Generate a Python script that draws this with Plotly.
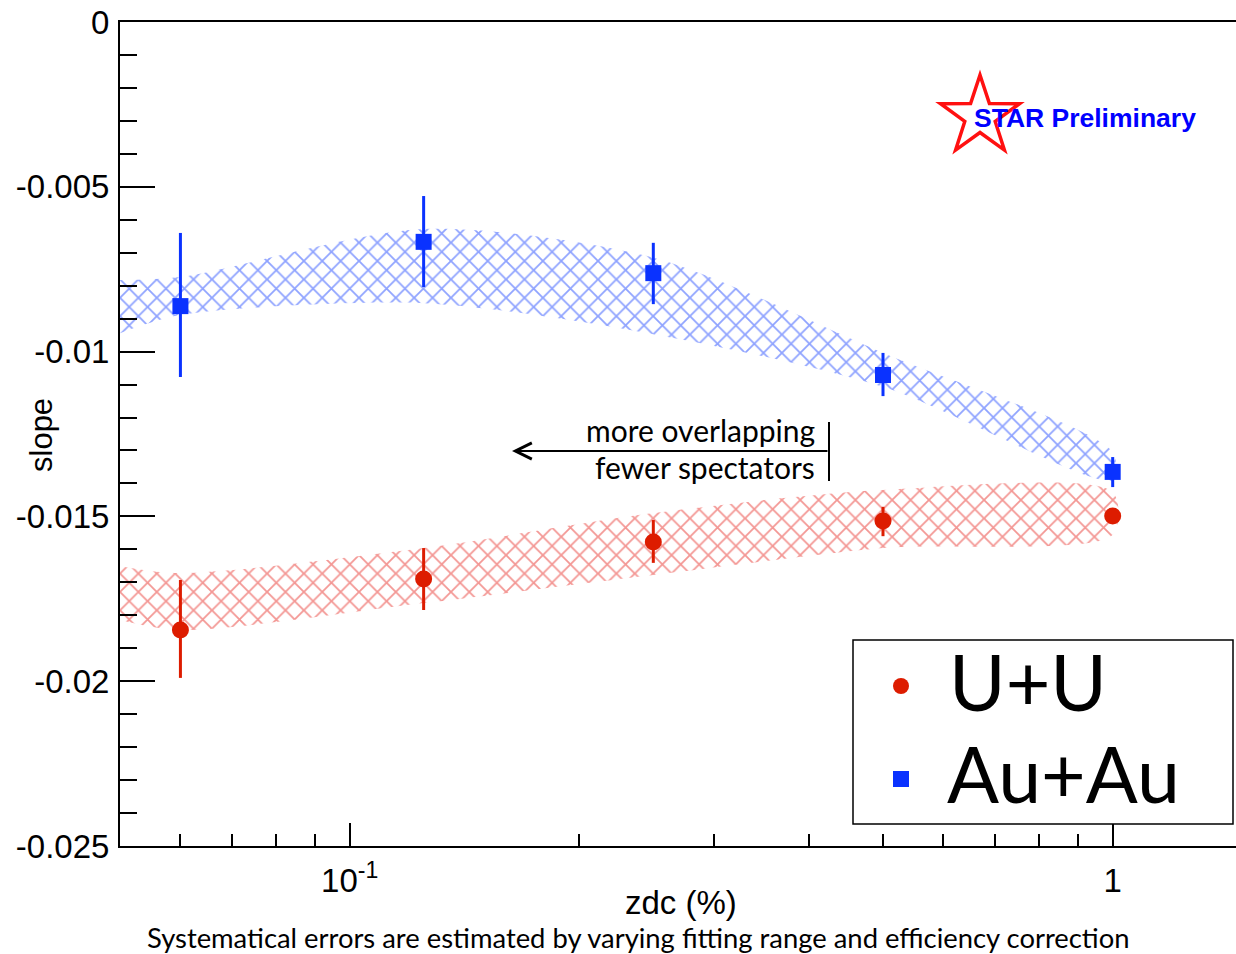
import math
import plotly.graph_objects as go

# ---------------- data ----------------
zdc = [0.06, 0.125, 0.25, 0.5, 1.0]

uu_slope = [-0.01845, -0.01690, -0.01578, -0.01514, -0.01499]
uu_err_up = [0.00152, 0.00094, 0.00067, 0.00043, 0.00020]
uu_err_dn = [0.00145, 0.00094, 0.00063, 0.00046, 0.00020]

auau_slope = [-0.00862, -0.00667, -0.00762, -0.01071, -0.01365]
auau_err_up = [0.00222, 0.00139, 0.00092, 0.00067, 0.00045]
auau_err_dn = [0.00215, 0.00137, 0.00094, 0.00064, 0.00046]

band_x = [0.05, 0.06, 0.125, 0.25, 0.5, 1.0]
auau_sys_hi = [-0.00783, -0.00774, -0.00628, -0.00715, -0.01004, -0.01305]
auau_sys_lo = [-0.00944, -0.00889, -0.00853, -0.00947, -0.01107, -0.01390]
uu_sys_hi = [-0.01651, -0.01672, -0.01596, -0.01490, -0.01420, -0.01426]
uu_sys_lo = [-0.01814, -0.01845, -0.01763, -0.01678, -0.01596, -0.01556]

y_tickvals = [0, -0.005, -0.01, -0.015, -0.02, -0.025]
y_ticktext = ["0", "-0.005", "-0.01", "-0.015", "-0.02", "-0.025"]
x_tickvals = [0.1, 1]
x_ticktext = ["10<sup>-1</sup>", "1"]
x_minor = [0.06, 0.07, 0.08, 0.09, 0.2, 0.3, 0.4, 0.5, 0.6, 0.7, 0.8, 0.9]

legend_names = ["U+U", "Au+Au"]

RED = "#dd1c00"
BLUE = "#0a32ff"
RED_HATCH = "#e8302a"
BLUE_HATCH = "#2048ff"

W, H = 1236, 954
ML, MT = 120, 22
PW, PH = 1236 - 120, 846 - 22
MR = W - ML - PW
MB = H - MT - PH


def px(xp):
    return (xp - 120) / PW


def py(yp):
    return (846 - yp) / PH


fig = go.Figure()


def band(hi, lo, color):
    return go.Scatter(
        x=band_x + band_x[::-1],
        y=hi + lo[::-1],
        mode="lines",
        line=dict(width=0, shape="spline", smoothing=0.8, color=color),
        fill="toself",
        fillcolor="rgba(0,0,0,0)",
        fillpattern=dict(shape="x", fgcolor=color, bgcolor="rgba(0,0,0,0)",
                         size=13, solidity=0.26),
        showlegend=False,
        hoverinfo="skip",
    )


fig.add_trace(band(auau_sys_hi, auau_sys_lo, BLUE_HATCH))
fig.add_trace(band(uu_sys_hi, uu_sys_lo, RED_HATCH))

fig.add_trace(go.Scatter(
    x=zdc, y=uu_slope, mode="markers", name=legend_names[0],
    marker=dict(symbol="circle", size=17, color=RED),
    error_y=dict(type="data", array=uu_err_up, arrayminus=uu_err_dn,
                 color=RED, thickness=3, width=0),
    showlegend=False,
))
fig.add_trace(go.Scatter(
    x=zdc, y=auau_slope, mode="markers", name=legend_names[1],
    marker=dict(symbol="square", size=16, color=BLUE),
    error_y=dict(type="data", array=auau_err_up, arrayminus=auau_err_dn,
                 color=BLUE, thickness=3, width=0),
    showlegend=False,
))

axis_font = dict(family="Liberation Sans, Arial, sans-serif", size=33, color="black")

fig.update_xaxes(
    type="log",
    range=[math.log10(0.05), math.log10(0.05) + PW / 763.0],
    tickvals=x_tickvals, ticktext=x_ticktext,
    ticks="inside", ticklen=23, tickwidth=1.5, tickcolor="black",
    minor=dict(tickvals=x_minor, ticks="inside", ticklen=12,
               tickwidth=1.5, tickcolor="black"),
    showline=True, linecolor="black", linewidth=2, mirror=True,
    showgrid=False, zeroline=False, automargin=False,
    tickfont=axis_font, ticklabelstandoff=4, ticklabeloverflow="allow",
)
fig.update_yaxes(
    range=[-0.025, 0],
    tickvals=y_tickvals, ticktext=y_ticktext,
    ticks="inside", ticklen=35, tickwidth=1.5, tickcolor="black",
    minor=dict(dtick=0.001, tick0=0, ticks="inside", ticklen=17,
               tickwidth=1.5, tickcolor="black"),
    showline=True, linecolor="black", linewidth=2, mirror=False,
    showgrid=False, zeroline=False, automargin=False,
    tickfont=axis_font, ticklabelstandoff=2, ticklabeloverflow="allow",
)

# star logo
cx, cy, R_out, R_in = 980, 116.5, 41.5, 16
pts = []
for i in range(10):
    ang = math.pi / 2 + i * math.pi / 5
    r = R_out if i % 2 == 0 else R_in
    pts.append((px(cx + r * math.cos(ang)), py(cy - r * math.sin(ang))))
path = "M " + " L ".join(f"{a:.5f},{b:.5f}" for a, b in pts) + " Z"

shapes = [
    dict(type="path", path=path, xref="paper", yref="paper",
         line=dict(color="#ff1010", width=3.5), fillcolor="rgba(0,0,0,0)"),
    dict(type="line", xref="paper", yref="paper",
         x0=px(829), x1=px(829), y0=py(422), y1=py(481),
         line=dict(color="black", width=2)),
    # legend box
    dict(type="rect", xref="paper", yref="paper",
         x0=px(853), x1=px(1233), y0=py(640), y1=py(824),
         line=dict(color="black", width=1.5), fillcolor="white", layer="above"),
    dict(type="circle", xref="paper", yref="paper",
         x0=px(893), x1=px(909), y0=py(678), y1=py(694),
         line=dict(color=RED, width=0), fillcolor=RED),
    dict(type="rect", xref="paper", yref="paper",
         x0=px(893), x1=px(909), y0=py(771), y1=py(787),
         line=dict(color=BLUE, width=0), fillcolor=BLUE),
]

txt_font = dict(family="Lato, Open Sans, sans-serif", size=30, color="black")
leg_font = dict(family="Lato, Open Sans, sans-serif", size=77, color="black")
annotations = [
    dict(x=px(972), y=py(118), xref="paper", yref="paper", xanchor="left",
         yanchor="middle", showarrow=False,
         text="<b>STAR Preliminary</b>",
         font=dict(family="Liberation Sans, Arial, sans-serif", size=26.5, color="#0000ff")),
    dict(x=px(512), y=py(451), xref="paper", yref="paper", text="",
         showarrow=True, ax=317, ay=0, arrowhead=5, arrowsize=1.6,
         arrowwidth=2, arrowcolor="black"),
    dict(x=px(817), y=py(430), xref="paper", yref="paper", xanchor="right",
         yanchor="middle", showarrow=False, text="more overlapping", font=txt_font),
    dict(x=px(817), y=py(467), xref="paper", yref="paper", xanchor="right",
         yanchor="middle", showarrow=False, text="fewer spectators", font=txt_font),
    dict(x=px(681), y=py(903), xref="paper", yref="paper", xanchor="center",
         yanchor="middle", showarrow=False, text="zdc (%)",
         font=dict(family="Liberation Sans, Arial, sans-serif", size=33, color="black")),
    dict(x=px(42), y=py(435), xref="paper", yref="paper", xanchor="center",
         yanchor="middle", showarrow=False, text="slope", textangle=-90,
         font=dict(family="Liberation Sans, Arial, sans-serif", size=31, color="black")),
    dict(x=px(638), y=py(937), xref="paper", yref="paper", xanchor="center",
         yanchor="middle", showarrow=False,
         text="Systematical errors are estimated by varying fitting range and efficiency correction",
         font=dict(family="Lato, Open Sans, sans-serif", size=27.4, color="black")),
    dict(x=px(947), y=py(681), xref="paper", yref="paper", xanchor="left",
         yanchor="middle", showarrow=False, text=legend_names[0], font=leg_font),
    dict(x=px(945), y=py(773), xref="paper", yref="paper", xanchor="left",
         yanchor="middle", showarrow=False, text=legend_names[1], font=leg_font),
]

fig.update_layout(
    width=W, height=H,
    margin=dict(l=ML, r=MR, t=MT, b=MB),
    plot_bgcolor="white", paper_bgcolor="white",
    shapes=shapes, annotations=annotations,
    showlegend=False,
)

fig.write_html(
    "out.html",
    config={"displayModeBar": False},
    post_script="document.body.style.margin='0';document.body.style.overflow='hidden';",
)
